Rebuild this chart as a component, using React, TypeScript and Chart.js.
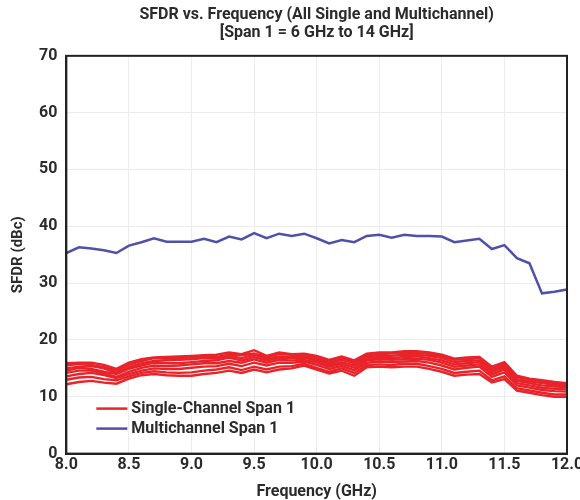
import React, { useEffect, useRef } from "react";
import { Chart, registerables } from "chart.js";

Chart.register(...registerables);

const TITLE_LINES = ["SFDR vs. Frequency (All Single and Multichannel)", "[Span 1 = 6 GHz to 14 GHz]"];
const X_TITLE = "Frequency (GHz)";
const Y_TITLE = "SFDR (dBc)";
const SINGLE_LABEL = "Single-Channel Span 1";
const MULTI_LABEL = "Multichannel Span 1";

const freqs = [
  8.0, 8.1, 8.2, 8.3, 8.4, 8.5, 8.6, 8.7, 8.8, 8.9,
  9.0, 9.1, 9.2, 9.3, 9.4, 9.5, 9.6, 9.7, 9.8, 9.9,
  10.0, 10.1, 10.2, 10.3, 10.4, 10.5, 10.6, 10.7, 10.8, 10.9,
  11.0, 11.1, 11.2, 11.3, 11.4, 11.5, 11.6, 11.7, 11.8, 11.9, 12.0,
];

const multi = [
  35.3, 36.3, 36.1, 35.8, 35.3, 36.6, 37.2, 37.9, 37.3, 37.3,
  37.3, 37.8, 37.2, 38.2, 37.7, 38.8, 37.9, 38.7, 38.3, 38.7,
  37.9, 37.0, 37.6, 37.2, 38.3, 38.5, 38.0, 38.5, 38.3, 38.3,
  38.2, 37.2, 37.5, 37.8, 36.0, 36.7, 34.4, 33.5, 28.2, 28.5, 28.9,
];

const single1 = [15.9, 16.0, 16.0, 15.6, 14.9, 16.0, 16.6, 16.9, 17.0, 17.1, 17.2, 17.3, 17.4, 17.8, 17.5, 18.2, 17.2, 17.8, 17.5, 17.6, 17.2, 16.5, 17.1, 16.4, 17.6, 17.8, 17.8, 18.0, 18.0, 17.8, 17.4, 16.7, 16.9, 17.0, 15.3, 16.1, 13.7, 13.2, 12.9, 12.6, 12.4];
const single2 = [15.5, 15.8, 15.6, 15.2, 14.6, 15.6, 16.3, 16.8, 16.7, 16.8, 16.9, 17.1, 17.0, 17.4, 17.3, 17.6, 17.0, 17.5, 17.4, 17.3, 16.9, 16.2, 16.8, 16.2, 17.3, 17.5, 17.6, 17.7, 17.8, 17.5, 17.1, 16.5, 16.6, 16.8, 15.0, 15.8, 13.5, 13.0, 12.7, 12.4, 12.3];
const single3 = [15.0, 15.3, 15.4, 15.0, 14.2, 15.2, 15.9, 16.3, 16.4, 16.5, 16.6, 16.8, 16.7, 17.2, 16.8, 17.4, 16.7, 17.1, 17.0, 17.0, 16.6, 15.9, 16.5, 15.9, 17.0, 17.2, 17.2, 17.4, 17.4, 17.2, 16.8, 16.1, 16.3, 16.4, 14.7, 15.5, 13.1, 12.7, 12.4, 12.1, 12.0];
const single4 = [14.6, 15.1, 14.9, 14.4, 14.0, 14.9, 15.5, 16.0, 15.9, 15.9, 16.1, 16.3, 16.4, 16.9, 16.4, 17.0, 16.4, 16.8, 16.8, 16.9, 16.3, 15.6, 16.1, 15.5, 16.7, 16.9, 16.8, 17.0, 17.1, 16.8, 16.4, 15.7, 15.9, 16.1, 14.3, 15.2, 12.8, 12.4, 12.0, 11.8, 11.7];
const single5 = [14.2, 14.6, 14.6, 14.1, 13.5, 14.4, 15.1, 15.5, 15.4, 15.5, 15.7, 15.9, 15.9, 16.3, 16.0, 16.6, 16.0, 16.5, 16.4, 16.5, 16.0, 15.3, 15.8, 15.1, 16.4, 16.6, 16.5, 16.6, 16.7, 16.5, 16.0, 15.3, 15.5, 15.7, 13.9, 14.8, 12.4, 12.0, 11.6, 11.4, 11.3];
const single6 = [13.6, 14.0, 14.2, 13.8, 13.3, 14.0, 14.6, 15.0, 14.9, 14.9, 15.1, 15.3, 15.4, 15.8, 15.4, 16.0, 15.5, 16.0, 16.0, 16.2, 15.6, 14.9, 15.4, 14.7, 16.0, 16.2, 16.1, 16.2, 16.3, 16.0, 15.5, 14.8, 15.1, 15.3, 13.5, 14.3, 12.0, 11.6, 11.2, 11.0, 10.9];
const single7 = [13.0, 13.4, 13.5, 13.1, 12.9, 13.6, 14.2, 14.5, 14.3, 14.2, 14.3, 14.6, 14.8, 15.2, 14.7, 15.3, 14.8, 15.3, 15.4, 15.8, 15.1, 14.4, 15.0, 14.2, 15.6, 15.7, 15.6, 15.8, 15.8, 15.4, 14.9, 14.2, 14.4, 14.6, 12.9, 13.6, 11.5, 11.1, 10.7, 10.4, 10.4];
const single8 = [12.2, 12.6, 12.8, 12.5, 12.3, 13.2, 13.8, 14.0, 13.8, 13.7, 13.7, 14.0, 14.2, 14.6, 14.2, 14.8, 14.3, 14.8, 15.0, 15.5, 14.8, 14.1, 14.6, 13.7, 15.2, 15.3, 15.2, 15.3, 15.3, 14.9, 14.4, 13.7, 13.9, 14.0, 12.5, 13.1, 11.1, 10.7, 10.3, 10.0, 10.0];

const singles = [single1, single2, single3, single4, single5, single6, single7, single8];

const xTicks = [8.0, 8.5, 9.0, 9.5, 10.0, 10.5, 11.0, 11.5, 12.0];
const yTicks = [0, 10, 20, 30, 40, 50, 60, 70];

const RED = "#e8242a";
const BLUE = "#5050aa";
const TEXT = "#2b2b2b";
const FONT = "Roboto";

const toPoints = (vals: number[]) => freqs.map((f, i) => ({ x: f, y: vals[i] }));

const frameLegendPlugin = {
  id: "frameLegend",
  afterDraw(chart: any) {
    const { ctx, chartArea } = chart;
    ctx.save();
    ctx.strokeStyle = "#222";
    ctx.lineWidth = 2;
    ctx.strokeRect(chartArea.left, chartArea.top, chartArea.right - chartArea.left, chartArea.bottom - chartArea.top);
    const entries = [
      { label: SINGLE_LABEL, color: RED },
      { label: MULTI_LABEL, color: BLUE },
    ];
    ctx.font = `bold 16px ${FONT}`;
    ctx.textBaseline = "middle";
    ctx.textAlign = "left";
    entries.forEach((e, i) => {
      const y = chartArea.bottom - 45 + i * 20;
      const x0 = chartArea.left + 30;
      ctx.strokeStyle = e.color;
      ctx.lineWidth = 2.5;
      ctx.beginPath();
      ctx.moveTo(x0, y);
      ctx.lineTo(x0 + 31, y);
      ctx.stroke();
      ctx.fillStyle = TEXT;
      ctx.fillText(e.label, x0 + 35, y);
    });
    ctx.restore();
  },
};

export default function App() {
  const ref = useRef<HTMLCanvasElement>(null);
  useEffect(() => {
    document.body.style.margin = "0";
    const datasets: any[] = singles.map((s) => ({
      label: SINGLE_LABEL,
      data: toPoints(s),
      borderColor: RED,
      borderWidth: 2.4,
      pointRadius: 0,
      tension: 0,
    }));
    datasets.push({
      label: MULTI_LABEL,
      data: toPoints(multi),
      borderColor: BLUE,
      borderWidth: 2.5,
      pointRadius: 0,
      tension: 0,
    });
    const chart = new Chart(ref.current!, {
      type: "line",
      data: { datasets },
      options: {
        animation: false,
        responsive: false,
        layout: { padding: { left: 9, right: 13, top: 0, bottom: 0 } },
        plugins: {
          legend: { display: false },
          tooltip: { enabled: false },
          title: {
            display: true,
            fullSize: false,
            text: TITLE_LINES,
            color: TEXT,
            font: { family: FONT, size: 16, weight: "bold", lineHeight: 1.12 },
            padding: { top: 6, bottom: 14 },
          },
        },
        scales: {
          x: {
            type: "linear",
            min: 8,
            max: 12,
            afterBuildTicks: (axis: any) => {
              axis.ticks = xTicks.map((v) => ({ value: v }));
            },
            afterFit: (axis: any) => {
              axis.paddingRight = 0;
            },
            ticks: {
              color: TEXT,
              font: { family: FONT, size: 16, weight: "bold" },
              callback: (v: any) => Number(v).toFixed(1),
              maxRotation: 0,
              padding: 2,
            },
            grid: { color: "#ececec", drawTicks: false },
            border: { color: "#222", width: 2 },
            title: {
              display: true,
              text: X_TITLE,
              color: TEXT,
              font: { family: FONT, size: 16, weight: "bold" },
              padding: { top: 6, bottom: -2 },
            },
          },
          y: {
            min: 0,
            max: 70,
            afterBuildTicks: (axis: any) => {
              axis.ticks = yTicks.map((v) => ({ value: v }));
            },
            ticks: {
              color: TEXT,
              font: { family: FONT, size: 16, weight: "bold" },
              padding: 9,
            },
            grid: { color: "#ececec", drawTicks: false },
            border: { color: "#222", width: 2 },
            title: {
              display: true,
              text: Y_TITLE,
              color: TEXT,
              font: { family: FONT, size: 15, weight: "bold" },
              padding: { top: 0, bottom: 3 },
            },
          },
        },
      },
      plugins: [frameLegendPlugin],
    });
    return () => chart.destroy();
  }, []);
  return (
    <div style={{ width: 580, height: 500 }}>
      <canvas ref={ref} width={580} height={500} />
    </div>
  );
}
